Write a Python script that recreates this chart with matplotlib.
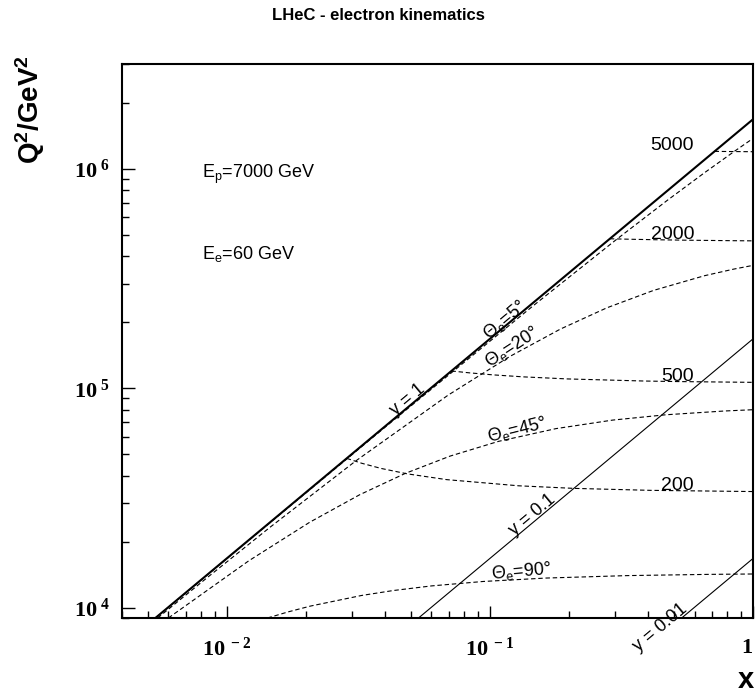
import matplotlib
matplotlib.use("Agg")
import matplotlib.pyplot as plt
from matplotlib.ticker import NullFormatter, LogLocator

plt.rcParams['font.family'] = ['Liberation Sans', 'DejaVu Sans']
plt.rcParams['mathtext.fontset'] = 'custom'
plt.rcParams['mathtext.bf'] = 'Liberation Serif:bold'
plt.rcParams['mathtext.rm'] = 'Liberation Sans'
plt.rcParams['mathtext.it'] = 'Liberation Sans:italic'
plt.rcParams['mathtext.sf'] = 'Liberation Sans:bold'

# lines of constant inelasticity y (endpoints)
y1_x, y1_q2 = [0.005357, 1.0], [9000, 1.68e6]
y01_x, y01_q2 = [0.05357, 1.0], [9000, 1.68e5]
y001_x, y001_q2 = [0.5357, 1.0], [9000, 16800]

# lines of constant electron angle
th5_x = [0.005364, 0.014304, 0.043186, 0.14725, 0.30448, 0.47274, 0.65321, 0.8473, 1.0]
th5_q2 = [9000, 23954, 71862, 239540, 479080, 718620, 958160, 1197700, 1374500]
th20_x = [0.005463, 0.008571, 0.014588, 0.030806, 0.069364, 0.11902, 0.18537, 0.27853,
          0.41887, 0.65442, 0.8443, 1.0]
th20_q2 = [9000, 13966, 23276, 46553, 93105, 139658, 186210, 232763,
           279316, 325868, 349145, 363110]
th45_x = [0.006001, 0.012122, 0.020693, 0.03201, 0.047647, 0.070652, 0.10785, 0.17821,
          0.29286, 0.46555, 0.77853, 1.0]
th45_q2 = [9000, 16388, 24582, 32776, 40971, 49165, 57359, 65553,
           71699, 75796, 78868, 79936]
th90_x = [0.014286, 0.017143, 0.020816, 0.032571, 0.042857, 0.06, 0.094286, 0.16286,
          0.33429, 0.67714, 1.0]
th90_q2 = [9000, 9600, 10200, 11400, 12000, 12600, 13200, 13680, 14040, 14220, 14278]

# lines of constant scattered electron energy
e5000_x, e5000_q2 = [0.71429, 0.85543, 1.0], [1.2e6, 1.1976e6, 1.19585e6]
e2000_x = [0.28571, 0.34114, 0.42429, 0.56286, 0.84, 1.0]
e2000_q2 = [480000, 477600, 475200, 472800, 470400, 469625]
e500_x = [0.071429, 0.084, 0.10286, 0.13429, 0.19714, 0.38571, 0.51143, 1.0]
e500_q2 = [120000, 117600, 115200, 112800, 110400, 108000, 107400, 106513]
e200_x = [0.028571, 0.032571, 0.038571, 0.048571, 0.068571, 0.12857, 0.20857, 0.40857, 1.0]
e200_q2 = [48000, 45600, 43200, 40800, 38400, 36000, 35040, 34320, 33890]

xtick_vals = [0.01, 0.1, 1]
xtick_labels = [r'$\mathbf{10^{\;-2}}$', r'$\mathbf{10^{\;-1}}$', r'$\mathbf{1}$']
ytick_vals = [1e4, 1e5, 1e6]
ytick_labels = [r'$\mathbf{10^{\;4}}$', r'$\mathbf{10^{\;5}}$', r'$\mathbf{10^{\;6}}$']

fig = plt.figure(figsize=(7.56, 6.94), dpi=100)
ax = fig.add_axes([122/756, 1 - 618/694, 631/756, 554/694])
ax.set_xscale('log')
ax.set_yscale('log')

ax.plot(y1_x, y1_q2, c='black', lw=1.5)
ax.plot(y01_x, y01_q2, c='black', lw=0.8)
ax.plot(y001_x, y001_q2, c='black', lw=0.8)

dash = dict(c='black', lw=0.8, ls=(0, (4, 2.5)))
for xs, qs in [(th5_x, th5_q2), (th20_x, th20_q2), (th45_x, th45_q2), (th90_x, th90_q2),
               (e5000_x, e5000_q2), (e2000_x, e2000_q2), (e500_x, e500_q2), (e200_x, e200_q2)]:
    ax.plot(xs, qs, **dash)

ax.set_xlim(0.004, 1)
ax.set_ylim(9000, 3e6)

ax.set_xticks(xtick_vals)
ax.set_xticklabels(xtick_labels, fontsize=16)
ax.get_xticklabels()[-1].set_horizontalalignment('right')
ax.set_yticks(ytick_vals)
ax.set_yticklabels(ytick_labels, fontsize=16)
ax.xaxis.set_minor_locator(LogLocator(subs=range(2, 10)))
ax.yaxis.set_minor_locator(LogLocator(subs=range(2, 10)))
ax.xaxis.set_minor_formatter(NullFormatter())
ax.yaxis.set_minor_formatter(NullFormatter())
ax.tick_params(which='both', direction='in', top=False, right=False, width=1)
ax.tick_params(which='major', length=9)
ax.tick_params(which='minor', length=5)
ax.tick_params(axis='x', pad=14)
ax.tick_params(axis='y', pad=9)
for sp in ax.spines.values():
    sp.set_linewidth(1.5)

# energy labels
lbl = dict(fontsize=14, ha='right', va='center')
ax.text(0.597, 1.27e6, '5000', **lbl)
ax.text(0.597, 5.0e5, '2000', **lbl)
ax.text(0.597, 1.128e5, '500', **lbl)
ax.text(0.597, 3.63e4, '200', **lbl)

ax.text(0.00803, 9.39e5, r'E$_{\mathrm{p}}$=7000 GeV', fontsize=13, va='center')
ax.text(0.00803, 4.10e5, r'E$_{\mathrm{e}}$=60 GeV', fontsize=13, va='center')

rot = dict(fontsize=13, ha='center', va='center', rotation_mode='anchor')
ax.text(0.0488, 8.86e4, 'y = 1', rotation=40, **rot)
ax.text(0.1457, 2.65e4, 'y = 0.1', rotation=40, **rot)
ax.text(0.445, 8110, 'y = 0.01', rotation=40, clip_on=False, **rot)
ax.text(0.114, 2.05e5, r'$\Theta_{\mathrm{e}}$=5°', rotation=40, **rot)
ax.text(0.1213, 1.545e5, r'$\Theta_{\mathrm{e}}$=20°', rotation=33, **rot)
ax.text(0.1267, 6.48e4, r'$\Theta_{\mathrm{e}}$=45°', rotation=14, **rot)
ax.text(0.1312, 1.46e4, r'$\Theta_{\mathrm{e}}$=90°', rotation=5, **rot)

fig.text(0.5, 1 - 15/694, 'LHeC - electron kinematics', fontsize=12,
         fontweight='bold', ha='center', va='center')
fig.text(30/756, 1 - 55/694, r'$\mathsf{Q^2/GeV^2}$', fontsize=20, rotation=90,
         ha='center', va='top')
fig.text(746/756, 1 - 680/694, 'x', fontsize=21, fontweight='bold',
         ha='center', va='center')

fig.savefig('out.png', dpi=100)
